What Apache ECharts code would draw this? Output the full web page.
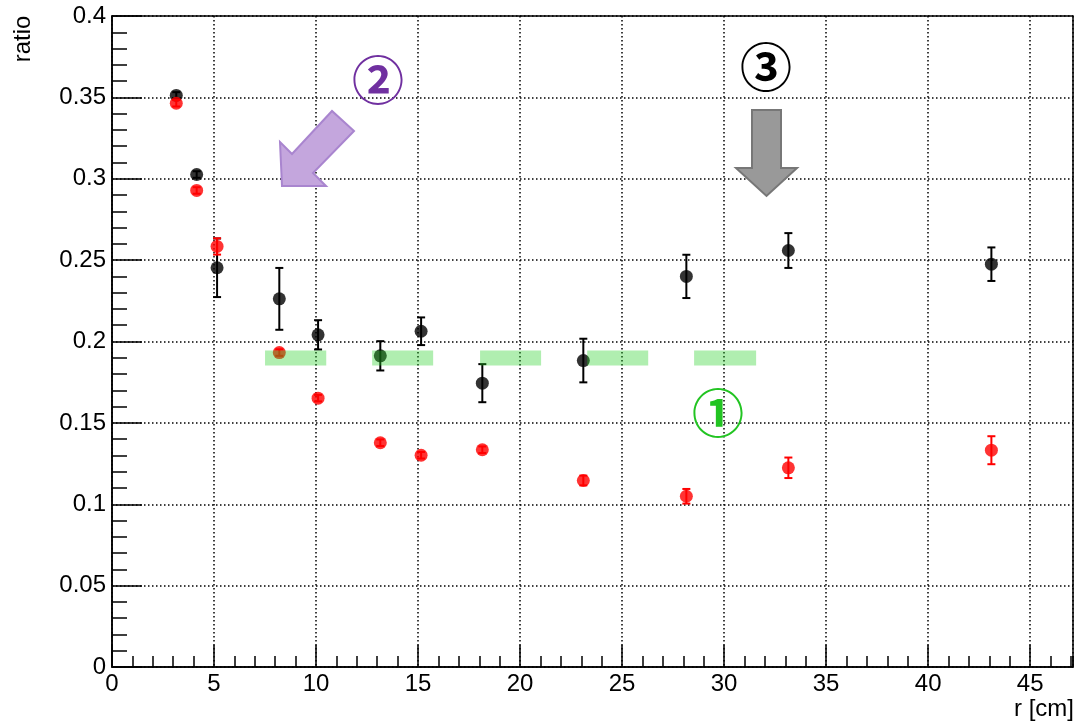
<!DOCTYPE html>
<html><head><meta charset="utf-8">
<script src="https://cdn.jsdelivr.net/npm/echarts@6/dist/echarts.min.js"></script>
<style>html,body{margin:0;padding:0;background:#fff}#c{width:1078px;height:726px}</style>
</head><body><div id="c"></div>
<script>
// data
const rBlack     = [3.15, 4.15, 5.15, 8.2, 10.1, 13.15, 15.15, 18.15, 23.1, 28.15, 33.15, 43.1];
const ratioBlack = [0.3512, 0.3026, 0.2453, 0.2262, 0.2041, 0.1912, 0.2063, 0.1744, 0.1883, 0.2400, 0.2559, 0.2475];
const errBlack   = [0.002, 0.002, 0.018, 0.019, 0.009, 0.009, 0.0085, 0.0117, 0.0134, 0.0133, 0.0107, 0.0103];
const rRed       = [3.15, 4.15, 5.15, 8.2, 10.1, 13.15, 15.15, 18.15, 23.1, 28.15, 33.15, 43.1];
const ratioRed   = [0.3464, 0.2928, 0.2584, 0.1932, 0.1652, 0.1378, 0.1301, 0.1335, 0.1146, 0.1049, 0.1224, 0.1332];
const errRed     = [0.002, 0.002, 0.005, 0.002, 0.002, 0.002, 0.002, 0.002, 0.003, 0.0045, 0.0063, 0.0086];
const bandStart  = [7.5, 12.75, 18.04, 23.29, 28.53];
const bandEnd    = [10.5, 15.74, 21.03, 26.28, 31.57];
const bandLow    = 0.1853;
const bandHigh   = 0.1945;
const xMax = 47.1;

const FONT = '"Liberation Sans", Arial, Helvetica, sans-serif';
const CJK = '"Noto Sans CJK JP", "Noto Sans CJK SC", sans-serif';

function pts(xs, ys, es) { return xs.map((x, i) => [x, ys[i], es[i]]); }

function errRender(color) {
  return function (params, api) {
    const x = api.value(0), y = api.value(1), e = api.value(2);
    const lo = api.coord([x, y - e]), hi = api.coord([x, y + e]);
    const st = { stroke: color, lineWidth: 2 };
    return { type: 'group', children: [
      { type: 'line', shape: { x1: lo[0], y1: lo[1], x2: hi[0], y2: hi[1] }, style: st },
      { type: 'line', shape: { x1: lo[0] - 4, y1: lo[1], x2: lo[0] + 4, y2: lo[1] }, style: st },
      { type: 'line', shape: { x1: hi[0] - 4, y1: hi[1], x2: hi[0] + 4, y2: hi[1] }, style: st }
    ]};
  };
}

const chart = echarts.init(document.getElementById('c'), null, { renderer: 'canvas' });
const dotted = { color: '#000', width: 1.5, type: [1.5, 2.5] };

chart.setOption({
  animation: false,
  backgroundColor: '#fff',
  grid: { left: 112, right: 5, top: 16, bottom: 59, show: true, borderColor: '#000', borderWidth: 1.5, backgroundColor: 'transparent' },
  xAxis: [{
    type: 'value', min: 0, max: xMax, interval: 5, position: 'bottom',
    axisLine: { show: true, onZero: false, lineStyle: { color: '#000', width: 1.5 } },
    axisTick: { show: true, inside: true, length: 22, lineStyle: { color: '#000', width: 1.5 } },
    axisLabel: { show: true, color: '#000', fontFamily: FONT, fontSize: 24, margin: 5, showMaxLabel: false },
    splitLine: { show: true, lineStyle: dotted }
  }, {
    type: 'value', min: 0, max: xMax, interval: 1, position: 'bottom',
    axisLine: { show: false },
    axisTick: { show: true, inside: true, length: 11, lineStyle: { color: '#000', width: 1.5 } },
    axisLabel: { show: false },
    splitLine: { show: false }
  }],
  yAxis: {
    type: 'value', min: 0, max: 0.4, interval: 0.05,
    axisLine: { show: true, onZero: false, lineStyle: { color: '#000', width: 1.5 } },
    axisTick: { show: true, inside: true, length: 30, lineStyle: { color: '#000', width: 1.5 } },
    minorTick: { show: true, splitNumber: 5, length: 15, lineStyle: { color: '#000', width: 1.5 } },
    axisLabel: { color: '#000', fontFamily: FONT, fontSize: 24, margin: 6,
      formatter: v => String(+v.toFixed(2)) },
    splitLine: { show: true, lineStyle: dotted }
  },
  series: [
    { type: 'custom', renderItem: errRender('#000'), data: pts(rBlack, ratioBlack, errBlack), z: 3 },
    { type: 'scatter', symbol: 'circle', symbolSize: 13, itemStyle: { color: '#000' },
      data: rBlack.map((x, i) => [x, ratioBlack[i]]), z: 4 },
    { type: 'custom', renderItem: errRender('#ff0000'), data: pts(rRed, ratioRed, errRed), z: 5 },
    { type: 'scatter', symbol: 'circle', symbolSize: 13, itemStyle: { color: '#ff0000' },
      data: rRed.map((x, i) => [x, ratioRed[i]]), z: 6 },
    { type: 'custom', z: 7,
      data: bandStart.map((s, i) => [s, bandEnd[i], bandLow, bandHigh]),
      renderItem: function (params, api) {
        const a = api.coord([api.value(0), api.value(3)]);
        const b = api.coord([api.value(1), api.value(2)]);
        return { type: 'rect', shape: { x: a[0], y: a[1], width: b[0] - a[0], height: b[1] - a[1] },
          style: { fill: 'rgba(40,210,40,0.37)' } };
      } }
  ],
  graphic: [
    { type: 'text', x: 23, y: 39, rotation: Math.PI / 2, z: 10,
      style: { text: 'ratio', font: '24px ' + FONT, fill: '#000', align: 'center', verticalAlign: 'middle' } },
    { type: 'text', x: 1074, y: 709, z: 10,
      style: { text: 'r [cm]', font: '24px ' + FONT, fill: '#000', align: 'right', verticalAlign: 'middle' } },
    { type: 'polygon', z: 10,
      shape: { points: [[282, 186], [280, 142], [292, 154], [332, 111], [354, 131], [313, 173], [326, 186]] },
      style: { fill: '#c4a6dd', stroke: '#a985cf', lineWidth: 2 } },
    { type: 'polygon', z: 10,
      shape: { points: [[752, 110], [781, 110], [781, 168], [797, 168], [766.5, 196], [736, 168], [752, 168]] },
      style: { fill: '#999999', stroke: '#777777', lineWidth: 2 } },
    { type: 'text', x: 718, y: 413, z: 10,
      style: { text: '①', font: 'bold 52px ' + CJK, fill: '#22c422', align: 'center', verticalAlign: 'middle' } },
    { type: 'text', x: 378, y: 80, z: 10,
      style: { text: '②', font: 'bold 52px ' + CJK, fill: '#7030a0', align: 'center', verticalAlign: 'middle' } },
    { type: 'text', x: 766, y: 67, z: 10,
      style: { text: '③', font: 'bold 52px ' + CJK, fill: '#000', align: 'center', verticalAlign: 'middle' } }
  ]
});
</script></body></html>
